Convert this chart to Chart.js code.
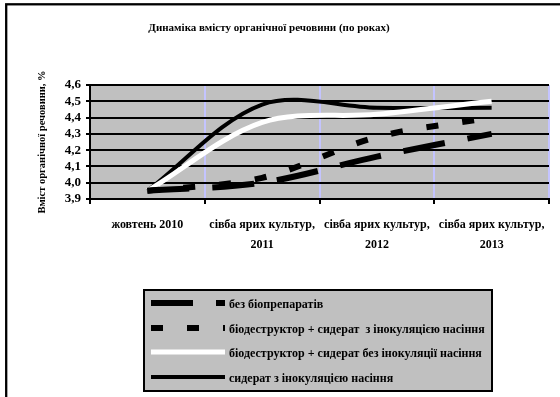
<!DOCTYPE html>
<html lang="uk">
<head>
<meta charset="utf-8">
<title>Динаміка вмісту органічної речовини</title>
<script src="https://cdn.jsdelivr.net/npm/chart.js@4/dist/chart.umd.min.js"></script>
<style>
  html, body { margin: 0; padding: 0; background: #ffffff; }
  #wrap { position: relative; width: 560px; height: 397px; }
</style>
</head>
<body>
<div id="wrap"><canvas id="chart" width="560" height="397"></canvas></div>
<script>
// Sampling dates (multi-line category labels)
const categories = [
  'жовтень 2010',
  ['сівба ярих культур,', '2011'],
  ['сівба ярих культур,', '2012'],
  ['сівба ярих культур,', '2013']
];

// Organic matter content, %
const noBio           = [3.95, 4.00, 4.16, 4.30];
const bioWithInoc     = [3.95, 4.03, 4.28, 4.40];
const bioWithoutInoc  = [3.95, 4.37, 4.42, 4.50];
const greenWithInoc   = [3.95, 4.48, 4.46, 4.46];

const seriesNames = [
  'без біопрепаратів',
  'біодеструктор + сидерат  з інокуляцією насіння',
  'біодеструктор + сидерат без інокуляції насіння',
  'сидерат з інокуляцією насіння'
];

const yMin = 3.9;
const yMax = 4.6;
const yStep = 0.1;

const chartTitle = 'Динаміка вмісту органічної речовини (по роках)';
const yAxisTitle = 'Вміст органічної речовини, %';

const SERIF = '"Liberation Serif", "Times New Roman", serif';

// Gray plot background, outer frame, title and boxed legend
const decorations = {
  id: 'decorations',
  beforeDraw(chart) {
    const { ctx, chartArea: a } = chart;
    ctx.save();
    ctx.fillStyle = '#c0c0c0';
    ctx.fillRect(a.left, a.top, a.right - a.left, a.bottom - a.top);
    ctx.restore();
  },
  afterDraw(chart) {
    const { ctx } = chart;
    ctx.save();
    // outer frame
    ctx.strokeStyle = '#000';
    ctx.lineWidth = 2.3;
    ctx.strokeRect(6.2, 4.3, 700, 700);

    // title
    ctx.fillStyle = '#000';
    ctx.font = 'bold 11px ' + SERIF;
    ctx.textAlign = 'center';
    ctx.textBaseline = 'middle';
    ctx.fillText(chartTitle, 269, 28);

    // legend box
    const lx = 144, ly = 290, lw = 348, lh = 101;
    ctx.fillStyle = '#c0c0c0';
    ctx.fillRect(lx, ly, lw, lh);
    ctx.lineWidth = 2;
    ctx.strokeStyle = '#000';
    ctx.strokeRect(lx, ly, lw, lh);

    const rows = [303, 328, 352, 377];
    chart.data.datasets.forEach((ds, i) => {
      const y = rows[i];
      ctx.save();
      ctx.beginPath();
      ctx.rect(151, y - 5, 74, 10);
      ctx.clip();
      ctx.strokeStyle = ds.borderColor;
      ctx.lineWidth = ds.legendWidth;
      ctx.lineCap = 'butt';
      ctx.setLineDash(ds.borderDash || []);
      ctx.beginPath();
      ctx.moveTo(151, y);
      ctx.lineTo(225, y);
      ctx.stroke();
      ctx.restore();

      ctx.fillStyle = '#000';
      ctx.font = 'bold 12px ' + SERIF;
      ctx.textAlign = 'left';
      ctx.textBaseline = 'middle';
      ctx.fillText(ds.label, 229, y + 2);
    });
    ctx.restore();
  }
};

const common = {
  fill: false,
  tension: 0.33,
  pointRadius: 0,
  pointHoverRadius: 0,
  borderCapStyle: 'butt',
  borderJoinStyle: 'round'
};

new Chart(document.getElementById('chart'), {
  type: 'line',
  data: {
    labels: categories,
    datasets: [
      Object.assign({}, common, {
        label: seriesNames[0], data: noBio,
        borderColor: '#000000', borderWidth: 6, borderDash: [42, 23], legendWidth: 6
      }),
      Object.assign({}, common, {
        label: seriesNames[1], data: bioWithInoc,
        borderColor: '#000000', borderWidth: 6, borderDash: [12, 24], legendWidth: 6
      }),
      Object.assign({}, common, {
        label: seriesNames[2], data: bioWithoutInoc,
        borderColor: '#ffffff', borderWidth: 5, legendWidth: 5
      }),
      Object.assign({}, common, {
        label: seriesNames[3], data: greenWithInoc,
        borderColor: '#000000', borderWidth: 4, legendWidth: 4
      })
    ]
  },
  options: {
    responsive: false,
    animation: false,
    devicePixelRatio: 1,
    layout: { padding: { left: 0, right: 11, top: 85, bottom: 138 } },
    plugins: {
      legend: { display: false },
      title: { display: false },
      tooltip: { enabled: false }
    },
    scales: {
      x: {
        offset: true,
        grid: {
          offset: true,
          color: '#c4c4ff',
          lineWidth: 2,
          tickColor: '#000000',
          tickLength: 5,
          tickWidth: 2,
          drawOnChartArea: true
        },
        border: { color: '#000000', width: 2 },
        ticks: {
          color: '#000000',
          padding: 11,
          maxRotation: 0,
          autoSkip: false,
          font: { family: SERIF, size: 12, weight: 'bold', lineHeight: 1.65 }
        },
        afterFit(scale) { scale.height = 60; }
      },
      y: {
        min: yMin,
        max: yMax,
        grid: {
          color: '#000000',
          lineWidth: 2,
          tickLength: 4,
          tickWidth: 2
        },
        border: { color: '#000000', width: 2 },
        ticks: {
          stepSize: yStep,
          autoSkip: false,
          color: '#000000',
          padding: 5,
          font: { family: SERIF, size: 13, weight: 'bold' },
          callback: v => v.toFixed(1).replace('.', ',')
        },
        title: {
          display: true,
          text: yAxisTitle,
          color: '#000000',
          font: { family: SERIF, size: 10.5, weight: 'bold' },
          padding: { top: 36, bottom: 0 }
        },
        afterFit(scale) { scale.width = 90; }
      }
    }
  },
  plugins: [decorations]
});
</script>
</body>
</html>
